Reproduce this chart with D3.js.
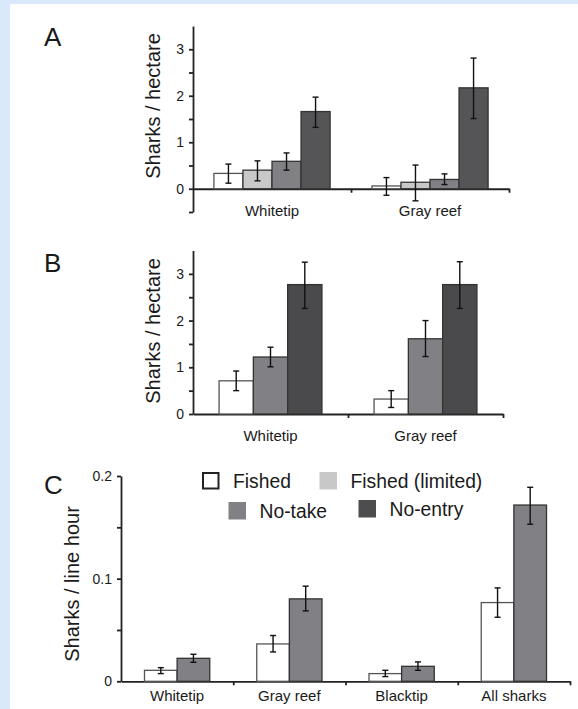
<!DOCTYPE html>
<html>
<head>
<meta charset="utf-8">
<script src="https://cdnjs.cloudflare.com/ajax/libs/d3/7.8.5/d3.min.js"></script>
<style>
  body { margin: 0; background: #d9e8fb; }
  svg { display: block; }
  text { font-family: Arial, "Liberation Sans", sans-serif; fill: #1a1a1a; }
</style>
</head>
<body>
<div id="viz"></div>
<script>
const width = 578;
const height = 709;

// series names
const seriesAll = ['Fished', 'Fished (limited)', 'No-take', 'No-entry'];
const seriesB = ['Fished', 'No-take', 'No-entry'];
const seriesC = ['Fished', 'No-take'];

// panel A: sharks / hectare
const catsA = ['Whitetip', 'Gray reef'];
const meanA = [[0.33, 0.40, 0.59, 1.66], [0.06, 0.14, 0.20, 2.17]];
const highA = [[0.53, 0.60, 0.77, 1.97], [0.24, 0.51, 0.32, 2.81]];
const lowA  = [[0.12, 0.17, 0.40, 1.32], [-0.14, -0.26, 0.09, 1.51]];
const ticksA = [-0.5, 0, 0.5, 1, 1.5, 2, 2.5, 3];

// panel B: sharks / hectare
const catsB = ['Whitetip', 'Gray reef'];
const meanB = [[0.71, 1.22, 2.77], [0.32, 1.61, 2.77]];
const highB = [[0.92, 1.43, 3.25], [0.50, 2.00, 3.26]];
const lowB  = [[0.50, 1.01, 2.26], [0.14, 1.23, 2.26]];
const ticksB = [0, 0.5, 1, 1.5, 2, 2.5, 3];

// panel C: sharks / line hour
const catsC = ['Whitetip', 'Gray reef', 'Blacktip', 'All sharks'];
const meanC = [[0.0107, 0.0224], [0.0364, 0.0803], [0.0075, 0.0146], [0.0767, 0.1717]];
const highC = [[0.0133, 0.0263], [0.0446, 0.0927], [0.0107, 0.0189], [0.091, 0.189]];
const lowC  = [[0.0075, 0.0185], [0.0286, 0.0686], [0.0046, 0.0107], [0.0624, 0.153]];
const ticksC = [0, 0.05, 0.1, 0.15, 0.2];

const fills = {
  'Fished': '#ffffff',
  'Fished (limited)': '#c8c8c8',
  'No-take': '#818185',
  'No-entry': '#555557'
};

const svg = d3.select('#viz')
  .append('svg')
    .attr('width', width)
    .attr('height', height);

// white card
svg.append('rect')
  .attr('x', 10).attr('y', 4)
  .attr('width', width - 10).attr('height', height - 4)
  .attr('fill', '#ffffff');

function drawPanel(p) {
  const g = svg.append('g');

  const yScale = d3.scaleLinear().domain(p.yDomain).range(p.yRange);

  const xScale = d3.scaleBand()
    .domain(p.cats)
    .range(p.xRange);

  const xInner = d3.scaleBand()
    .domain(p.series)
    .range([0, xScale.bandwidth()])
    .paddingOuter(p.outerPad);

  // x axis (boundary ticks pointing down)
  const xIdx = d3.scaleLinear().domain([0, p.cats.length]).range(p.xRange);
  g.append('g')
    .attr('class', 'x-axis')
    .attr('transform', `translate(0, ${yScale(0)})`)
    .call(d3.axisBottom(xIdx)
      .tickValues(d3.range(1, p.cats.length + 1))
      .tickFormat('')
      .tickSize(4)
      .tickSizeOuter(0));

  // bars
  const groups = g.selectAll('.grp')
    .data(p.cats)
    .join('g')
      .attr('class', 'grp')
      .attr('transform', d => `translate(${xScale(d)}, 0)`);

  groups.each(function(cat, ci) {
    const rows = p.series.map((s, si) => ({
      s: s,
      v: p.mean[ci][si],
      hi: p.high[ci][si],
      lo: p.low[ci][si]
    }));

    d3.select(this).selectAll('rect')
      .data(rows)
      .join('rect')
        .attr('x', d => xInner(d.s))
        .attr('width', xInner.bandwidth())
        .attr('y', d => Math.min(yScale(d.v), yScale(0)))
        .attr('height', d => Math.abs(yScale(0) - yScale(d.v)))
        .attr('fill', d => (p.fills && p.fills[d.s]) || fills[d.s])
        .attr('stroke', d => d.s === 'Fished' ? '#555' : '#333')
        .attr('stroke-width', 1.3);

    const err = d3.select(this).selectAll('.err')
      .data(rows)
      .join('g')
        .attr('class', 'err')
        .attr('stroke', '#111')
        .attr('stroke-width', 1.4)
        .attr('transform', d => `translate(${xInner(d.s) + xInner.bandwidth() / 2}, 0)`);
    err.append('line')
      .attr('y1', d => yScale(d.hi)).attr('y2', d => yScale(d.lo));
    err.append('line')
      .attr('x1', -3).attr('x2', 3)
      .attr('y1', d => yScale(d.hi)).attr('y2', d => yScale(d.hi));
    err.append('line')
      .attr('x1', -3).attr('x2', 3)
      .attr('y1', d => yScale(d.lo)).attr('y2', d => yScale(d.lo));
  });

  // y axis
  g.append('g')
    .attr('class', 'y-axis')
    .attr('transform', `translate(${p.xRange[0]}, 0)`)
    .call(d3.axisLeft(yScale)
      .tickValues(p.ticks)
      .tickFormat(p.tickFormat)
      .tickSize(4)
      .tickPadding(5)
      .tickSizeOuter(0));

  g.selectAll('.domain, .tick line')
    .attr('stroke', '#222')
    .attr('stroke-width', 1.8);
  g.selectAll('.tick text')
    .attr('font-size', 14)
    .attr('fill', '#1a1a1a')
    .style('font-family', 'Arial, "Liberation Sans", sans-serif');

  // category labels
  g.selectAll('.cat')
    .data(p.cats)
    .join('text')
      .attr('class', 'cat')
      .attr('x', d => xScale(d) + xScale.bandwidth() / 2)
      .attr('y', p.catY)
      .attr('text-anchor', 'middle')
      .attr('font-size', 15)
      .text(d => d);

  // y title
  g.append('text')
    .attr('transform', `translate(${p.titleX}, ${p.titleY}) rotate(-90)`)
    .attr('text-anchor', 'middle')
    .attr('font-size', 20)
    .text(p.title);

  // panel letter
  g.append('text')
    .attr('x', 44)
    .attr('y', p.letterY)
    .attr('font-size', 26)
    .text(p.letter);
}

drawPanel({
  letter: 'A', letterY: 46,
  cats: catsA, series: seriesAll,
  mean: meanA, high: highA, low: lowA,
  yDomain: [-0.5, 3.5], yRange: [212, 26],
  xRange: [193, 509], outerPad: 0.72,
  ticks: ticksA, tickFormat: d => Number.isInteger(d) ? d : '',
  catY: 216,
  title: 'Sharks / hectare', titleX: 160, titleY: 106
});

drawPanel({
  letter: 'B', letterY: 272,
  cats: catsB, series: seriesB,
  mean: meanB, high: highB, low: lowB,
  fills: {'No-entry': '#4a4a4c'},
  yDomain: [0, 3.5], yRange: [414, 250.5],
  xRange: [193, 503], outerPad: 0.76,
  ticks: ticksB, tickFormat: d => Number.isInteger(d) ? d : '',
  catY: 441,
  title: 'Sharks / hectare', titleX: 160, titleY: 331
});

drawPanel({
  letter: 'C', letterY: 494,
  cats: catsC, series: seriesC,
  mean: meanC, high: highC, low: lowC,
  yDomain: [0, 0.2], yRange: [681.3, 476],
  xRange: [121, 570], outerPad: 0.72,
  ticks: ticksC, tickFormat: d => (d === 0.05 || d === 0.15) ? '' : (d === 0 ? '0' : d3.format('.1f')(d)),
  catY: 701,
  title: 'Sharks / line hour', titleX: 79, titleY: 584
});

// legend (inside panel C)
const legendPos = [
  {s: 'Fished', x: 202, y: 472},
  {s: 'Fished (limited)', x: 319.5, y: 472},
  {s: 'No-take', x: 228.5, y: 502},
  {s: 'No-entry', x: 358.5, y: 500}
];
const legend = svg.append('g').attr('class', 'legend');
legendPos.forEach(l => {
  const isFished = l.s === 'Fished';
  legend.append('rect')
    .attr('x', isFished ? l.x + 1 : l.x)
    .attr('y', isFished ? l.y + 1 : l.y)
    .attr('width', isFished ? 15.5 : 17.5)
    .attr('height', isFished ? 15.5 : 17.5)
    .attr('fill', l.s === 'No-entry' ? '#4d4d4f' : fills[l.s])
    .attr('stroke', isFished ? '#222' : 'none')
    .attr('stroke-width', 2);
  legend.append('text')
    .attr('x', l.x + 31)
    .attr('y', l.y + 15.5)
    .attr('font-size', 19.3)
    .text(l.s);
});
</script>
</body>
</html>
